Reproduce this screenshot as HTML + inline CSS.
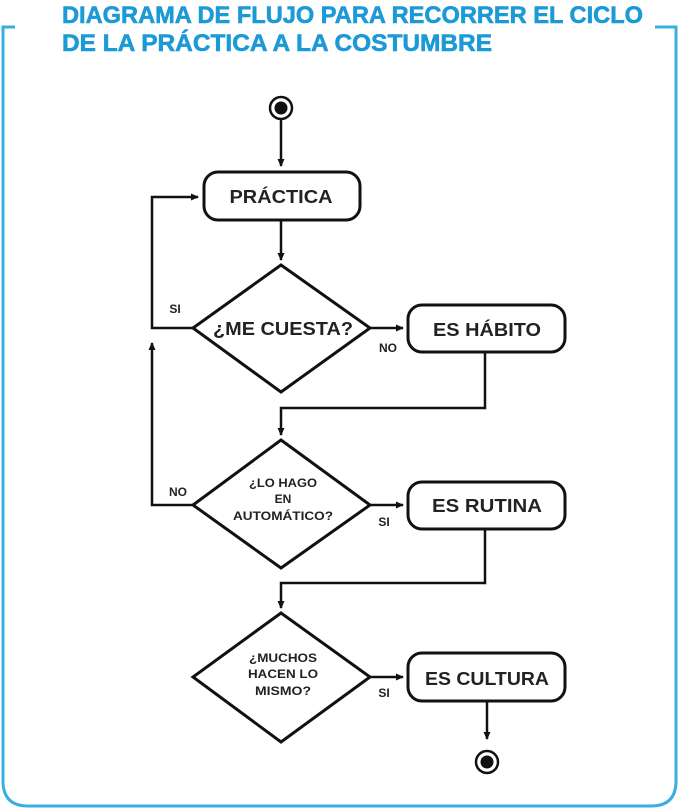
<!DOCTYPE html>
<html><head><meta charset="utf-8"><style>
html,body{margin:0;padding:0;background:#fff;}
svg{display:block;}
</style></head><body>
<svg width="680" height="810" viewBox="0 0 680 810" xmlns="http://www.w3.org/2000/svg">
<defs>
<marker id="ar" markerWidth="8" markerHeight="8" refX="7" refY="4" orient="auto" markerUnits="userSpaceOnUse">
<path d="M0,0.5 L8,4 L0,7.5 Z" fill="#111"/>
</marker>
</defs>
<path d="M15,27 H3 V781 Q3,806 28,806 H651 Q676,806 676,781 V27 H655" fill="none" stroke="#3aaee0" stroke-width="3"/>
<g font-family="Liberation Sans, sans-serif" font-weight="bold" fill="#1b9ad6" stroke="#1b9ad6" stroke-width="0.6" font-size="24">
<text x="62" y="23" textLength="581" lengthAdjust="spacingAndGlyphs">DIAGRAMA DE FLUJO PARA RECORRER EL CICLO</text>
<text x="62" y="51" textLength="430" lengthAdjust="spacingAndGlyphs">DE LA PRÁCTICA A LA COSTUMBRE</text>
</g>
<g stroke="#111" stroke-width="3" fill="none">
<circle cx="281" cy="108" r="11" stroke-width="2.5"/>
<circle cx="281" cy="108" r="6.5" fill="#111" stroke="none"/>
<line x1="281" y1="120" x2="281" y2="166" stroke-width="2.5" marker-end="url(#ar)"/>
<rect x="204" y="172" width="156" height="48" rx="14"/>
<line x1="281" y1="220" x2="281" y2="260" stroke-width="2.5" marker-end="url(#ar)"/>
<polygon points="281,265 370,328 281,392 193,328"/>
<polyline points="193,328 152,328 152,197 198,197" stroke-width="2.5" marker-end="url(#ar)"/>
<line x1="370" y1="328" x2="403" y2="328" stroke-width="2.5" marker-end="url(#ar)"/>
<rect x="408" y="305" width="157" height="47" rx="14"/>
<polyline points="485,352 485,408 281,408 281,435" stroke-width="2.5" marker-end="url(#ar)"/>
<polygon points="281,440 370,505 281,568 193,505"/>
<polyline points="193,505 152,505 152,343" stroke-width="2.5" marker-end="url(#ar)"/>
<line x1="370" y1="505" x2="403" y2="505" stroke-width="2.5" marker-end="url(#ar)"/>
<rect x="408" y="482" width="157" height="47" rx="14"/>
<polyline points="485,529 485,583 281,583 281,608" stroke-width="2.5" marker-end="url(#ar)"/>
<polygon points="281,613 370,677 281,742 193,677"/>
<line x1="370" y1="677" x2="403" y2="677" stroke-width="2.5" marker-end="url(#ar)"/>
<rect x="408" y="653" width="157" height="48" rx="14"/>
<line x1="487" y1="701" x2="487" y2="739" stroke-width="2.5" marker-end="url(#ar)"/>
<circle cx="487" cy="762" r="11" stroke-width="2.5"/>
<circle cx="487" cy="762" r="6.5" fill="#111" stroke="none"/>
</g>
<g font-family="Liberation Sans, sans-serif" font-weight="bold" fill="#222" text-anchor="middle">
<text x="281" y="203" font-size="18" textLength="103" lengthAdjust="spacingAndGlyphs">PRÁCTICA</text>
<text x="283" y="335" font-size="18" textLength="140" lengthAdjust="spacingAndGlyphs">¿ME CUESTA?</text>
<text x="487" y="336" font-size="18" textLength="108" lengthAdjust="spacingAndGlyphs">ES HÁBITO</text>
<text x="487" y="512" font-size="18" textLength="110" lengthAdjust="spacingAndGlyphs">ES RUTINA</text>
<text x="487" y="685" font-size="18" textLength="124" lengthAdjust="spacingAndGlyphs">ES CULTURA</text>
<g font-size="12">
<text x="283" y="487" textLength="68" lengthAdjust="spacingAndGlyphs">¿LO HAGO</text>
<text x="283" y="503">EN</text>
<text x="283" y="520" textLength="100" lengthAdjust="spacingAndGlyphs">AUTOMÁTICO?</text>
<text x="283" y="662" textLength="68" lengthAdjust="spacingAndGlyphs">¿MUCHOS</text>
<text x="283" y="678" textLength="70" lengthAdjust="spacingAndGlyphs">HACEN LO</text>
<text x="283" y="695" textLength="56" lengthAdjust="spacingAndGlyphs">MISMO?</text>
</g>
<g font-size="12">
<text x="175" y="313">SI</text>
<text x="388" y="352">NO</text>
<text x="178" y="496">NO</text>
<text x="384" y="526">SI</text>
<text x="384" y="697">SI</text>
</g>
</g>
</svg>
</body></html>
